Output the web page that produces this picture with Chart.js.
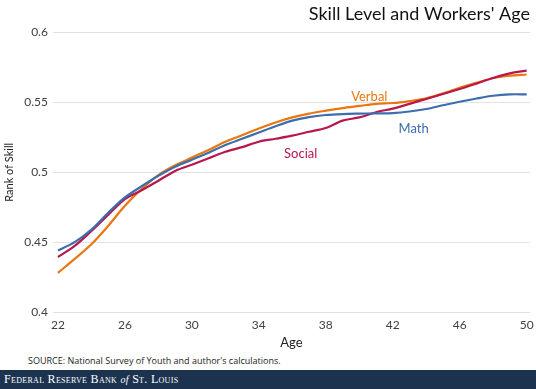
<!DOCTYPE html>
<html>
<head>
<meta charset="utf-8">
<script src="https://cdn.jsdelivr.net/npm/chart.js@4/dist/chart.umd.min.js"></script>
<style>
  html,body{margin:0;padding:0;background:#fff;}
  body{width:536px;height:389px;position:relative;overflow:hidden;font-family:Lato,'Open Sans',sans-serif;}
  #wrap{position:absolute;left:0;top:0;width:536px;height:351px;}
  #src{position:absolute;left:28px;top:354px;font-size:9px;color:#222;font-family:'Open Sans',sans-serif;}
  #foot{position:absolute;left:0;top:370px;width:536px;height:19px;background:#1c3350;color:#fff;
        font-family:'Liberation Serif','DejaVu Serif',serif;font-size:12px;line-height:19px;padding-left:4px;
        font-variant:small-caps;letter-spacing:0.3px;box-sizing:border-box;}
  #foot i{font-variant:normal;font-size:10px;}
</style>
</head>
<body>
<div id="wrap"><canvas id="c" width="536" height="351"></canvas></div>
<div id="src">SOURCE: National Survey of Youth and author's calculations.</div>
<div id="foot">Federal Reserve Bank <i>of</i> St. Louis</div>
<script>
(function(){
'use strict';

// edades 22..50
const ages   = [22,23,24,25,26,27,28,29,30,31,32,33,34,35,36,37,38,39,40,41,42,43,44,45,46,47,48,49,50];
const math   = [.444,.450,.459,.471,.482,.490,.4975,.504,.509,.514,.5195,.524,.5285,.533,.537,.5395,.541,.5417,.542,.5422,.5424,.5435,.5453,.548,.5505,.5528,.5548,.5558,.5558];
const verbal = [.428,.438,.4485,.4616,.476,.488,.498,.505,.5106,.516,.5219,.5265,.5314,.5357,.5393,.542,.5441,.546,.5475,.549,.5496,.551,.5529,.5565,.5605,.564,.5675,.5692,.570];
const social = [.4394,.4473,.458,.4695,.4808,.4872,.494,.501,.5054,.510,.5147,.518,.5219,.524,.5262,.529,.5317,.537,.5393,.543,.5456,.549,.5525,.556,.5596,.5635,.5675,.5708,.5728];
const xTicks = [22,26,30,34,38,42,46,50];
const yTicks = [0.4,0.45,0.5,0.55,0.6];

const COLORS = { Math:'#3c6dae', Verbal:'#e8770e', Social:'#b8174c' };

// etiquetas en coordenadas de datos
const seriesLabels = [
  { text:'Verbal', age:40.6, val:0.5541 },
  { text:'Math',   age:43.25, val:0.5312 },
  { text:'Social', age:36.5, val:0.5133 }
];

const toPts = arr => ages.map((a,i) => ({ x:a, y:arr[i] }));

const labelPlugin = {
  id:'seriesLabels',
  afterDatasetsDraw(chart){
    const {ctx, scales:{x,y}} = chart;
    ctx.save();
    ctx.font = '13px Lato, "Open Sans", sans-serif';
    ctx.textAlign = 'center';
    ctx.textBaseline = 'middle';
    seriesLabels.forEach(l => {
      ctx.fillStyle = COLORS[l.text];
      ctx.fillText(l.text, x.getPixelForValue(l.age), y.getPixelForValue(l.val));
    });
    ctx.restore();
  }
};

const mk = (label, arr) => ({
  label, data: toPts(arr), borderColor: COLORS[label], backgroundColor: COLORS[label],
  borderWidth: 2.2, pointRadius: 0, tension: 0.3, fill: false
});

new Chart(document.getElementById('c').getContext('2d'), {
  type:'line',
  data:{ datasets:[ mk('Math', math), mk('Social', social), mk('Verbal', verbal) ] },
  plugins:[labelPlugin],
  options:{
    responsive:false, animation:false,
    layout:{ padding:{ left:3, right:6, top:0, bottom:0 } },
    plugins:{
      legend:{ display:false },
      tooltip:{ enabled:false },
      title:{ display:true, text:"Skill Level and Workers' Age", align:'end', color:'#111',
              font:{ family:'Lato, "Open Sans", sans-serif', size:18, weight:'normal' },
              padding:{ top:3, bottom:8 } }
    },
    scales:{
      x:{
        type:'linear', min:21.7, max:50.2,
        afterBuildTicks: ax => { ax.ticks = xTicks.map(v => ({ value:v })); },
        grid:{ display:false },
        border:{ display:false },
        ticks:{ color:'#404040', font:{ family:'Lato, "Open Sans", sans-serif', size:12 }, padding:-2 },
        title:{ display:true, text:'Age', color:'#222', font:{ family:'Lato, "Open Sans", sans-serif', size:13 }, padding:{ top:5, bottom:0 } }
      },
      y:{
        min:0.4, max:0.6,
        afterBuildTicks: ax => { ax.ticks = yTicks.map(v => ({ value:v })); },
        grid:{ color:'#e2e2e2', lineWidth:1, drawTicks:false },
        border:{ display:false },
        ticks:{ color:'#404040', font:{ family:'Lato, "Open Sans", sans-serif', size:12 }, padding:5,
                callback: v => String(+v.toFixed(2)) },
        title:{ display:true, text:'Rank of Skill', color:'#222', font:{ family:'Lato, "Open Sans", sans-serif', size:11 }, padding:{ top:0, bottom:3 } }
      }
    }
  }
});

})();
</script>
</body>
</html>
